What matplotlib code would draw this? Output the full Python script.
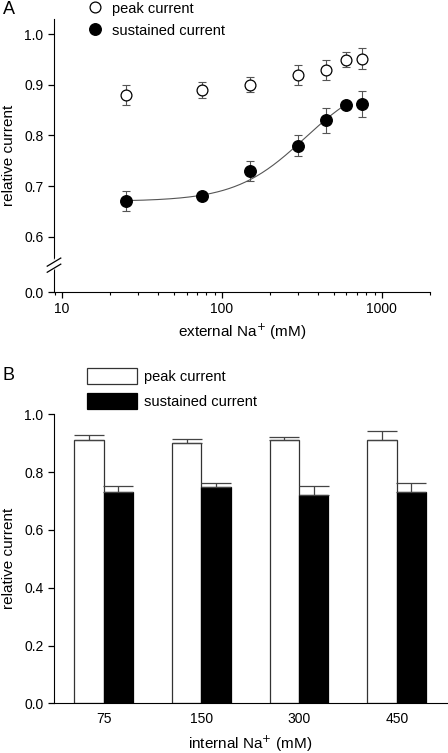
import numpy as np
import matplotlib
matplotlib.use("Agg")
import matplotlib.pyplot as plt
from matplotlib.lines import Line2D
from matplotlib.patches import Patch

plt.rcParams['font.family'] = ['Liberation Sans', 'DejaVu Sans']
plt.rcParams['font.size'] = 10

# ---- Panel A data ----
ext_na = [25, 75, 150, 300, 450, 600, 750]
peak_a = [0.88, 0.89, 0.90, 0.92, 0.93, 0.95, 0.952]
peak_a_err = [0.02, 0.015, 0.015, 0.02, 0.02, 0.015, 0.02]
sust_a = [0.67, 0.68, 0.73, 0.78, 0.83, 0.86, 0.862]
sust_a_err = [0.02, 0.005, 0.02, 0.02, 0.025, 0.005, 0.025]
# Hill fit parameters for the sustained current
fit_bottom, fit_amp, fit_k, fit_n = 0.67, 0.25, 330.0, 2.0

# ---- Panel B data ----
int_na = ['75', '150', '300', '450']
peak_b = [0.91, 0.90, 0.91, 0.91]
peak_b_err = [0.018, 0.014, 0.010, 0.032]
sust_b = [0.73, 0.75, 0.72, 0.73]
sust_b_err = [0.022, 0.011, 0.032, 0.031]

W, H = 448, 753
fig = plt.figure(figsize=(W/100, H/100), dpi=100)

def ax_rect(l, t, r, b):
    return [l/W, 1 - b/H, (r-l)/W, (b-t)/H]

# ================= Panel A =================
axA = fig.add_axes(ax_rect(54, 19, 430, 292))
axA.set_xscale('log')
axA.set_xlim(8.9, 2000)
axA.set_ylim(0.491, 1.03)

errc = '#555555'
axA.errorbar(ext_na, peak_a, yerr=peak_a_err, fmt='none', ecolor=errc,
             elinewidth=0.8, capsize=3, capthick=0.8, zorder=2)
axA.errorbar(ext_na, sust_a, yerr=sust_a_err, fmt='none', ecolor=errc,
             elinewidth=0.8, capsize=3, capthick=0.8, zorder=2)

xf = np.logspace(np.log10(ext_na[0]), np.log10(ext_na[-2]), 200)
yf = fit_bottom + fit_amp / (1 + (fit_k / xf) ** fit_n)
axA.plot(xf, yf, color='#555555', lw=0.8, zorder=3)

axA.plot(ext_na, peak_a, 'o', ms=7.8, mfc='white', mec='black', mew=0.9, zorder=4)
axA.plot(ext_na, sust_a, 'o', ms=8.3, mfc='black', mec='black', zorder=4)

axA.set_yticks([0.491, 0.6, 0.7, 0.8, 0.9, 1.0])
axA.set_yticklabels(['0.0', '0.6', '0.7', '0.8', '0.9', '1.0'])
axA.set_xticks([10, 100, 1000])
axA.set_xticklabels(['10', '100', '1000'])
for s in ['top', 'right']:
    axA.spines[s].set_visible(False)
axA.tick_params(which='major', direction='out', length=4, width=0.9, labelsize=10)
axA.tick_params(which='minor', direction='out', length=2.5, width=0.8)
axA.set_xlabel('external Na$^{+}$ (mM)', fontsize=11, labelpad=4)
axA.set_ylabel('relative current', fontsize=11, labelpad=6)

# axis break marks
yb = 0.544
trans = axA.get_yaxis_transform()
axA.plot([-0.01, 0.01], [yb - 0.012, yb + 0.012], transform=trans, color='white',
         lw=4, clip_on=False, zorder=5, solid_capstyle='butt')
for dy in (-0.006, 0.006):
    axA.plot([-0.018, 0.018], [yb - 0.008 + dy, yb + 0.008 + dy], transform=trans,
             color='black', lw=0.9, clip_on=False, zorder=6)

hA = [Line2D([], [], ls='none', marker='o', ms=7.8, mfc='white', mec='black', mew=0.9),
      Line2D([], [], ls='none', marker='o', ms=8.3, mfc='black', mec='black')]
fig.legend(hA, ['peak current', 'sustained current'], loc='upper left',
           bbox_to_anchor=(88/W, 1 - 1.5/H), frameon=False, borderpad=0,
           borderaxespad=0, handlelength=1.0, handletextpad=0.65,
           labelspacing=0.55, fontsize=10.5)
fig.text(3/W, 1 - 10/H, 'A', fontsize=13, va='center', ha='left')

# ================= Panel B =================
axB = fig.add_axes(ax_rect(54, 414.3, 447, 703.3))
x = np.arange(len(int_na))
bw = 0.30
axB.bar(x - bw/2, peak_b, bw, color='white', edgecolor='#333333', lw=0.9,
        yerr=[np.zeros(len(peak_b)), peak_b_err], ecolor='#444444',
        error_kw=dict(elinewidth=0.9, capsize=10.5, capthick=0.9))
axB.bar(x + bw/2, sust_b, bw, color='black', edgecolor='black', lw=0.9,
        yerr=[np.zeros(len(sust_b)), sust_b_err], ecolor='#444444',
        error_kw=dict(elinewidth=0.9, capsize=10.5, capthick=0.9))
axB.set_xlim(-0.509, 3.514)
axB.set_ylim(0, 1.0)
axB.set_yticks([0.0, 0.2, 0.4, 0.6, 0.8, 1.0])
axB.set_yticklabels(['0.0', '0.2', '0.4', '0.6', '0.8', '1.0'])
axB.set_xticks(x)
axB.set_xticklabels(int_na)
for s in ['top', 'right']:
    axB.spines[s].set_visible(False)
axB.tick_params(axis='y', direction='out', length=4, width=0.9, labelsize=10)
axB.tick_params(axis='x', length=0, labelsize=10, pad=6)
axB.set_xlabel('internal Na$^{+}$ (mM)', fontsize=11, labelpad=6)
axB.set_ylabel('relative current', fontsize=11, labelpad=6)

hB = [Patch(facecolor='white', edgecolor='#333333', lw=0.9),
      Patch(facecolor='black', edgecolor='black', lw=0.9)]
fig.legend(hB, ['peak current', 'sustained current'], loc='upper left',
           bbox_to_anchor=(87.3/W, 1 - 367.7/H), frameon=False, borderpad=0,
           borderaxespad=0, handlelength=3.4, handleheight=1.35,
           handletextpad=0.48, labelspacing=0.6, fontsize=10.5)
fig.text(3/W, 1 - 375/H, 'B', fontsize=13, va='center', ha='left')

fig.savefig('out.png', dpi=100)
